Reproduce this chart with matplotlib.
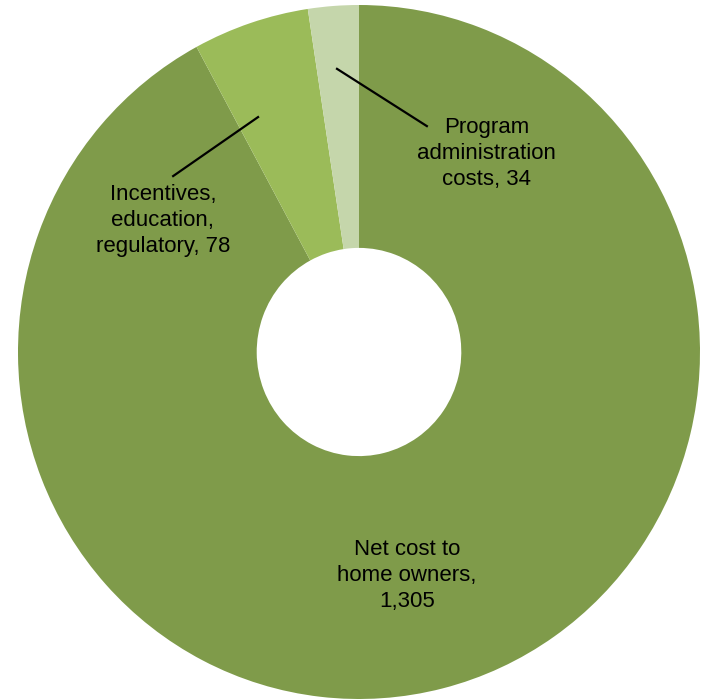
import matplotlib.pyplot as plt

# Cost breakdown (donut)
labels = ["Net cost to\nhome owners,\n1,305",
          "Incentives,\neducation,\nregulatory, 78",
          "Program\nadministration\ncosts, 34"]
values = [1305, 78, 34]
colors = ["#7F9B4A", "#9BBB59", "#C5D6AB"]

plt.rcParams["font.family"] = ["Liberation Sans", "DejaVu Sans"]

fig = plt.figure(figsize=(7.09, 6.99), dpi=100)
ax = fig.add_axes([18 / 709, 0, 682 / 709, 694 / 699])

wedges, _ = ax.pie(values, colors=colors, startangle=90, counterclock=False,
                   radius=1.0, wedgeprops=dict(width=0.70, linewidth=0))
for w in wedges:
    w.set_clip_on(False)

ax.set_aspect("auto")
ax.set_xlim(-1, 1)
ax.set_ylim(-1, 1)
ax.axis("off")

# label text positions and leader lines
ax.text(0.141, -0.643, labels[0], ha="center", va="center", fontsize=16,
        multialignment="center", linespacing=1.32)
ax.text(-0.575, 0.380, labels[1], ha="center", va="center", fontsize=16,
        multialignment="center", linespacing=1.32)
ax.text(0.375, 0.573, labels[2], ha="center", va="center", fontsize=16,
        multialignment="center", linespacing=1.32)

ax.plot([-0.296, -0.545], [0.677, 0.507], color="black", lw=1.6)
ax.plot([-0.0645, 0.199], [0.816, 0.651], color="black", lw=1.6)

fig.savefig("out.png", dpi=100)
